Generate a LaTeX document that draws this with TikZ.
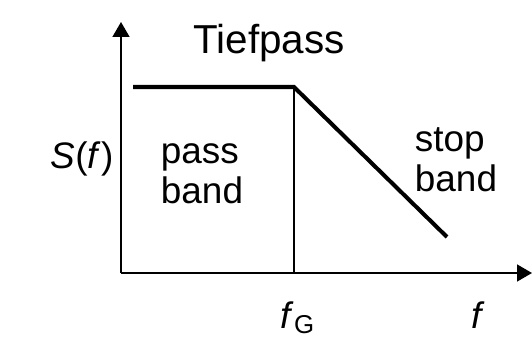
\documentclass[tikz,border=0pt]{standalone}
\usepackage{fontspec}
\setmainfont{Liberation Sans}
\usetikzlibrary{arrows.meta}
\tikzset{
  lbl/.style={inner sep=0pt, anchor=base, font=\fontsize{21}{22.5}\selectfont},
  axis/.style={line width=0.85pt, -{Triangle[length=0.3cm, width=0.34cm]}},
}
\begin{document}
\begin{tikzpicture}[x=0.02cm, y=-0.02cm]
\useasboundingbox (0,0) rectangle (532,345);
\coordinate (origin) at (121,273);
\coordinate (ytop) at (121,22);
\coordinate (xend) at (532,273);
\coordinate (start) at (133,87);
\coordinate (corner) at (294,87);
\coordinate (foot) at (294,273);
\coordinate (stop) at (447,237);
\node[lbl, font=\fontsize{23}{28}\selectfont] (title) at (269,53) {Tiefpass};
\node[lbl] (sf) at (82,168) {\textit{S}(\textit{f})};
% multi-line nodes: base is the last line
\node[lbl, align=left] (pass) at (202,203) {pass\\band};
\node[lbl, align=left] (stopband) at (456,191) {stop\\band};
\node[lbl] (fg) at (298,328) {\textit{f}\textsubscript{G}};
\node[lbl] (f) at (478,328) {\textit{f}};
\draw[axis] (origin) -- (ytop);
\draw[axis] (origin) -- (xend);
\draw[line width=0.7pt] (corner) -- (foot);
\draw[line width=2.3pt] (start) -- (corner) -- (stop);
\end{tikzpicture}
\end{document}
